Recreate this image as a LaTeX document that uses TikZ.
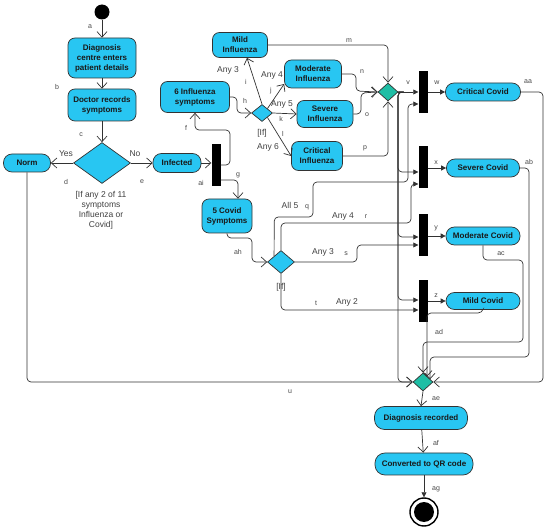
\documentclass[tikz,border=0pt]{standalone}
\usepackage{fontspec}
\setmainfont{Liberation Sans}
\usetikzlibrary{arrows.meta, positioning, shapes}

\definecolor{actblue}{RGB}{40,198,242}
\definecolor{mergeteal}{RGB}{30,190,165}
\definecolor{wire}{RGB}{50,50,50}
\definecolor{tagtext}{RGB}{70,70,70}

\begin{document}
\begin{tikzpicture}[x=1pt, y=-1pt,
  act/.style={rectangle, draw=black!80, line width=0.7pt, fill=actblue, rounded corners=7pt,
              align=center, inner sep=1pt, text=black!90, font=\bfseries\fontsize{8}{10}\selectfont},
  pill/.style={act, rounded corners=8.5pt},
  bar/.style={rectangle, fill=black, minimum width=9pt, minimum height=42pt, inner sep=0pt},
  choice/.style={diamond, draw=black!80, line width=0.7pt, fill=actblue, inner sep=0pt},
  merge/.style={choice, fill=mergeteal, minimum width=20pt, minimum height=18pt},
  tag/.style={font=\fontsize{7}{8}\selectfont, text=tagtext, inner sep=0pt},
  guard/.style={font=\fontsize{8.5}{10}\selectfont, text=black!75, inner sep=0pt, align=center},
  wire/.style={draw=wire, line width=0.7pt, rounded corners=4pt},
  flow/.style={wire, -{Straight Barb[length=5.5pt,width=10pt]}},
  feed/.style={wire, -{Triangle[length=5pt,width=5pt]}}
]
  \useasboundingbox (0,0) rectangle (550,532);

  % left column
  \node[circle, fill=black, minimum size=15pt, inner sep=0pt] (start) at (102,12) {};
  \node[act, minimum width=68pt, minimum height=40pt] (enter) at (102,58) {Diagnosis\\centre enters\\patient details};
  \node[act, minimum width=68pt, minimum height=32pt] (record) at (102,105) {Doctor records\\symptoms};
  \node[choice, minimum width=57pt, minimum height=41pt] (check) at (102,163) {};
  \node[pill, minimum width=47pt, minimum height=18pt] (norm) at (27,163) {Norm};
  \node[pill, minimum width=48pt, minimum height=19pt] (infected) at (177,163) {Infected};
  \node[guard] (checkguard) at (101,210) {[If any 2 of 11\\symptoms\\Influenza or\\Covid]};
  \node[bar] (forkai) at (216,165) {};

  % influenza branch
  \node[act, minimum width=69pt, minimum height=31pt] (flusix) at (195,97) {6 Influenza\\symptoms};
  \node[choice, minimum width=21pt, minimum height=17pt] (fluif) at (262,113) {};
  \node[act, minimum width=55pt, minimum height=25pt] (flumild) at (240,45) {Mild\\Influenza};
  \node[act, minimum width=57pt, minimum height=28pt] (flumod) at (313,74) {Moderate\\Influenza};
  \node[act, minimum width=56pt, minimum height=27pt] (flusev) at (325,114) {Severe\\Influenza};
  \node[act, minimum width=51pt, minimum height=29pt] (flucrit) at (317,156) {Critical\\Influenza};
  \node[merge] (flumerge) at (388,92) {};

  % covid branch
  \node[act, minimum width=50pt, minimum height=34pt] (covfive) at (227,216) {5 Covid\\Symptoms};
  \node[choice, minimum width=27pt, minimum height=23pt] (covif) at (281,262) {};
  \node[bar] (barcrit) at (423,92) {};
  \node[bar] (barsev) at (423,167) {};
  \node[bar] (barmod) at (423,235) {};
  \node[bar] (barmild) at (423,301) {};
  \node[pill, minimum width=75pt, minimum height=18pt] (covcrit) at (483,92) {Critical Covid};
  \node[pill, minimum width=73pt, minimum height=18pt] (covsev) at (483,168) {Severe Covid};
  \node[pill, minimum width=74pt, minimum height=18pt] (covmod) at (483,236) {Moderate Covid};
  \node[pill, minimum width=74pt, minimum height=17pt] (covmild) at (483,301) {Mild Covid};

  % end
  \node[merge] (finalmerge) at (423,382) {};
  \node[act, rounded corners=10pt, minimum width=93pt, minimum height=23pt] (saved) at (421,418) {Diagnosis recorded};
  \node[act, rounded corners=10pt, minimum width=98pt, minimum height=22pt] (qrcode) at (424,464) {Converted to QR code};
  \node[circle, draw=black, line width=1.4pt, fill=white, minimum size=28pt, inner sep=0pt] (stopring) at (424,512) {};
  \node[circle, fill=black, minimum size=20pt, inner sep=0pt] (stop) at (stopring) {};

  % connectors
  \draw[flow] (start) -- (enter);
  \draw[flow] (enter) -- (record);
  \draw[flow] (record) -- (check);
  \draw[flow] (check.west) -- (norm.east);
  \draw[flow] (check.east) -- (infected.west);
  \draw[flow] (infected.east) -- (forkai.west |- infected.east);
  \draw[flow] (forkai.east) -- (230,165) -- (230,130) -- (195,130) -- (flusix.south);
  \draw[flow] (forkai.east |- 0,180) -- (238,180) -- (covfive.north -| 238,0);

  \draw[flow] (flusix.east) -- (237,97) -- (237,113) -- (fluif.west);
  \draw[flow] (fluif.north) -- (flumild.south -| 247,0);
  \draw[flow] (fluif.north east) -- (flumod.west |- 0,84);
  \draw[flow] (fluif.east) -- (flusev.west);
  \draw[flow] (fluif.south east) -- (flucrit.west);
  \draw[flow] (flumild.east) -| (flumerge.north);
  \draw[flow] (flumod.east) -- (356,74) -- (356,91) -- (flumerge.west);
  \draw[flow] (flusev.east) -- (361,114) -- (361,93) -- (flumerge.west);
  \draw[flow] (flucrit.east) -| (flumerge.south);

  \draw[feed] (flumerge.east) -- (barcrit.west);
  \draw[feed] (flumerge.east) -- (398,92) -- (398,172) -- (barsev.west |- 0,172);
  \draw[feed] (flumerge.east) -- (398,92) -- (398,237) -- (barmod.west |- 0,237);
  \draw[feed] (flumerge.east) -- (398,92) -- (398,300) -- (barmild.west |- 0,300);
  \draw[flow] (flumerge.east) -- (398,92) -- (398,382) -- (finalmerge.west);

  \draw[flow] (covfive.south) -- (227,238) -- (252,238) -- (252,262) -- (covif.west);
  \draw[feed] (covif.north west) -- (274.25,217) -- (313,217) -- (313,182) -- (408,182) -- (408,104) -- (barcrit.west |- 0,104);
  \draw[feed] (covif.north) -- (281,223) -- (411,223) -- (411,184) -- (barsev.west |- 0,184);
  \draw[feed] (covif.east) -- (357,262) -- (357,245) -- (barmod.west |- 0,245);
  \draw[feed] (covif.south) |- (barmild.west |- 0,310);

  \draw[feed] (barcrit.east) -- (covcrit.west);
  \draw[feed] (barsev.east |- covsev.west) -- (covsev.west);
  \draw[feed] (barmod.east |- covmod.west) -- (covmod.west);
  \draw[feed] (barmild.east) -- (covmild.west);

  \draw[flow] (covcrit.east) -- (543,92) -- (543,382) -- (finalmerge.east);
  \draw[flow] (covsev.east) -- (529,168) -- (529,357) -- (430,357) -- (430,379.3);
  \draw[flow] (covmod.south) -- (483,260) -- (523,260) -- (523,342) -- (423,342) -- (finalmerge.north);
  \draw[flow] (covmild.south) -- (482,313) -- (427,313) -- (427,376.6);
  \draw[flow] (norm.south) |- (finalmerge.west);

  \draw[flow] (finalmerge.south) -- (saved.north);
  \draw[flow] (saved) -- (qrcode);
  \draw[feed] (qrcode) -- (stopring);

  % connector names
  \node[tag] (ta) at (90,27) {a};
  \node[tag] (tb) at (57,87) {b};
  \node[tag] (tc) at (81,135) {c};
  \node[tag] (td) at (66,182) {d};
  \node[tag] (te) at (142,182) {e};
  \node[guard] (yes) at (66,154) {Yes};
  \node[guard] (no) at (135,154) {No};
  \node[tag] (tf) at (186,128) {f};
  \node[tag] (tg) at (238,175) {g};
  \node[tag] (tai) at (201,183) {ai};
  \node[tag] (th) at (245,101) {h};
  \node[tag] (ti) at (246,82) {i};
  \node[tag] (tj) at (271,91) {j};
  \node[tag] (tk) at (281,119) {k};
  \node[tag] (tl) at (283,134) {l};
  \node[guard] (any3) at (228,70) {Any 3};
  \node[guard] (any4) at (272,75) {Any 4};
  \node[guard] (any5) at (282,104) {Any 5};
  \node[guard] (any6) at (268,147) {Any 6};
  \node[guard] (fluifguard) at (262,133) {[If]};
  \node[tag] (tm) at (349,41) {m};
  \node[tag] (tn) at (362,72) {n};
  \node[tag] (to) at (367,115) {o};
  \node[tag] (tp) at (365,148) {p};
  \node[tag] (tv) at (408,83) {v};
  \node[tag] (tw) at (437,83) {w};
  \node[tag] (tx) at (436,163) {x};
  \node[tag] (ty) at (436,228) {y};
  \node[tag] (tz) at (436,296) {z};
  \node[tag] (taa) at (528,82) {aa};
  \node[tag] (tab) at (529,162) {ab};
  \node[tag] (tac) at (501,254) {ac};
  \node[tag] (tad) at (439,332) {ad};
  \node[tag] (tah) at (238,252) {ah};
  \node[guard] (all5) at (290,205) {All 5};
  \node[tag] (tq) at (307,207) {q};
  \node[guard] (cany4) at (343,216) {Any 4};
  \node[tag] (tr) at (366,217) {r};
  \node[guard] (cany3) at (323,252) {Any 3};
  \node[tag] (ts) at (346,254) {s};
  \node[guard] (cany2) at (347,302) {Any 2};
  \node[tag] (tt) at (316,303) {t};
  \node[guard] (covifguard) at (281,287) {[If]};
  \node[tag] (tu) at (290,392) {u};
  \node[tag] (tae) at (436,399) {ae};
  \node[tag] (taf) at (436,443) {af};
  \node[tag] (tag) at (436,489) {ag};
\end{tikzpicture}
\end{document}
